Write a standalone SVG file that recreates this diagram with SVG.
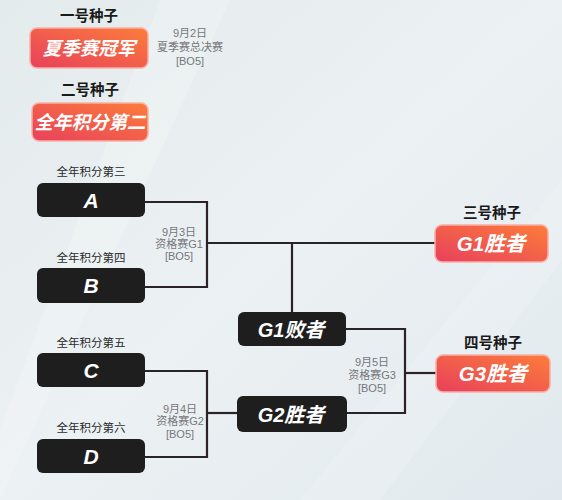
<svg xmlns="http://www.w3.org/2000/svg" width="562" height="500" viewBox="0 0 562 500">
<defs>
<linearGradient id="bg" x1="0" y1="0" x2="1" y2="1">
<stop offset="0" stop-color="#e4ebed"/>
<stop offset="0.5" stop-color="#ecf1f3"/>
<stop offset="1" stop-color="#e1e9ee"/>
</linearGradient>
<linearGradient id="org" x1="1" y1="0" x2="0" y2="1">
<stop offset="0" stop-color="#fc7d3a"/>
<stop offset="1" stop-color="#e8405c"/>
</linearGradient>
<style>
.seed{fill:url(#org);stroke:#f8b0a8;stroke-width:1.5}
.dark{fill:#1f1e1f}
.bt{font-family:"Liberation Sans","Noto Sans CJK SC",sans-serif;font-weight:bold;font-style:italic;fill:#ffffff;text-anchor:middle}
.lbl{font-family:"Noto Sans CJK SC",sans-serif;font-weight:bold;fill:#1a1a1a;text-anchor:middle;font-size:14.5px}
.sub{font-family:"Noto Sans CJK SC",sans-serif;fill:#2a2a2a;text-anchor:middle;font-size:11.5px}
.info{font-family:"Liberation Sans","Noto Sans CJK SC",sans-serif;fill:#77777b;text-anchor:middle;font-size:11px}
.ln{fill:none;stroke:#2b2325;stroke-width:2.2}
</style>
</defs>
<rect width="562" height="500" fill="url(#bg)"/>
<path d="M0 430 L160 0 L230 0 L0 500 Z" fill="#ffffff" opacity="0.18"/>
<path d="M300 500 L562 180 L562 260 L380 500 Z" fill="#ffffff" opacity="0.15"/>

<g id="connectors">
<path class="ln" d="M145 202 H207 V287 H145"/>
<path class="ln" d="M207 243 H435"/>
<path class="ln" d="M292 243 V312"/>
<path class="ln" d="M145 371 H207 V457 H145"/>
<path class="ln" d="M207 413 H238"/>
<path class="ln" d="M346 329 H405 V413 H346"/>
<path class="ln" d="M405 373 H436"/>
</g>

<g id="seed1">
<text class="lbl" x="89" y="21">一号种子</text>
<rect class="seed" x="30" y="28" width="118" height="40" rx="7"/>
<text class="bt" x="89" y="55" font-size="18.5">夏季赛冠军</text>
</g>
<g id="final-info">
<text class="info" x="190" y="37">9月2日</text>
<text class="info" x="190" y="51">夏季赛总决赛</text>
<text class="info" x="190" y="65">[BO5]</text>
</g>
<g id="seed2">
<text class="lbl" x="90" y="95">二号种子</text>
<rect class="seed" x="32" y="103" width="116" height="38" rx="7"/>
<text class="bt" x="90" y="129" font-size="18.5">全年积分第二</text>
</g>

<g id="A">
<text class="sub" x="91" y="176">全年积分第三</text>
<rect class="dark" x="37" y="183" width="108" height="34" rx="6"/>
<text class="bt" x="91" y="208" font-size="21">A</text>
</g>
<g id="B">
<text class="sub" x="91" y="262">全年积分第四</text>
<rect class="dark" x="37" y="268" width="108" height="35" rx="6"/>
<text class="bt" x="91" y="293" font-size="21">B</text>
</g>
<g id="g1-info">
<text class="info" x="179" y="236">9月3日</text>
<text class="info" x="179" y="248">资格赛G1</text>
<text class="info" x="179" y="260">[BO5]</text>
</g>

<g id="C">
<text class="sub" x="91" y="347">全年积分第五</text>
<rect class="dark" x="37" y="353" width="108" height="34" rx="6"/>
<text class="bt" x="91" y="378" font-size="21">C</text>
</g>
<g id="D">
<text class="sub" x="91" y="432">全年积分第六</text>
<rect class="dark" x="37" y="439" width="108" height="34" rx="6"/>
<text class="bt" x="91" y="464" font-size="21">D</text>
</g>
<g id="g2-info">
<text class="info" x="180" y="413">9月4日</text>
<text class="info" x="180" y="425">资格赛G2</text>
<text class="info" x="180" y="438">[BO5]</text>
</g>

<g id="G1loser">
<rect class="dark" x="238" y="312" width="108" height="34" rx="6"/>
<text class="bt" x="291" y="337" font-size="20">G1败者</text>
</g>
<g id="G2winner">
<rect class="dark" x="237" y="396" width="110" height="36" rx="6"/>
<text class="bt" x="291" y="422" font-size="20">G2胜者</text>
</g>
<g id="g3-info">
<text class="info" x="372" y="366">9月5日</text>
<text class="info" x="372" y="379">资格赛G3</text>
<text class="info" x="372" y="392">[BO5]</text>
</g>

<g id="seed3">
<text class="lbl" x="492" y="218">三号种子</text>
<rect class="seed" x="435" y="225" width="113" height="37" rx="7"/>
<text class="bt" x="491" y="251" font-size="20.5">G1胜者</text>
</g>
<g id="seed4">
<text class="lbl" x="493" y="348">四号种子</text>
<rect class="seed" x="436" y="355" width="114" height="37" rx="7"/>
<text class="bt" x="493" y="381" font-size="20.5">G3胜者</text>
</g>
</svg>
